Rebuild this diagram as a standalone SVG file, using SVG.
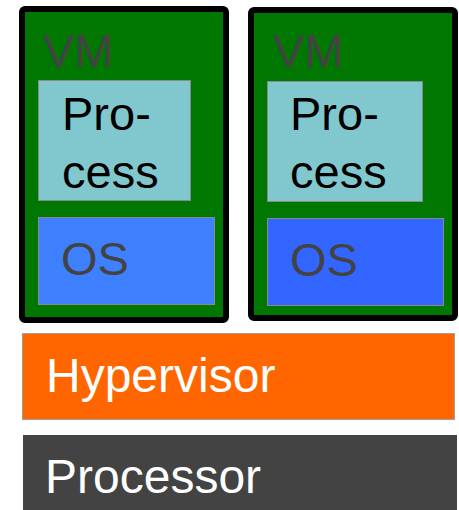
<svg xmlns="http://www.w3.org/2000/svg" width="459" height="510" viewBox="0 0 459 510">
  <style>
    .vm { fill: #007700; stroke: #000000; stroke-width: 6; }
    .proc { fill: #80c8ce; stroke: #8a8a8a; stroke-width: 1; }
    .os-a { fill: #3f80ff; stroke: #8a8a8a; stroke-width: 1; }
    .os-b { fill: #3366ff; stroke: #8a8a8a; stroke-width: 1; }
    .label { font-family: "Liberation Sans", Arial, sans-serif; font-size: 47px; }
    .dark { fill: #434343; }
    .black { fill: #000000; }
    .white { fill: #ffffff; font-size: 48px; }
  </style>

  <!-- virtual machine 1 -->
  <g id="vm1">
    <rect class="vm" x="22" y="9" width="204" height="311" rx="3"/>
    <text class="label dark" x="43" y="67">VM</text>
    <g id="vm1-process">
      <rect class="proc" x="38.5" y="80.5" width="152" height="120"/>
      <text class="label black" x="62" y="130">Pro-</text>
      <text class="label black" x="62" y="188">cess</text>
    </g>
    <g id="vm1-os">
      <rect class="os-a" x="38.5" y="217.5" width="176" height="87"/>
      <text class="label dark" x="61" y="275">OS</text>
    </g>
  </g>

  <!-- virtual machine 2 -->
  <g id="vm2">
    <rect class="vm" x="251" y="10" width="204" height="308" rx="3"/>
    <text class="label dark" x="273" y="67">VM</text>
    <g id="vm2-process">
      <rect class="proc" x="267.5" y="81.5" width="155" height="120"/>
      <text class="label black" x="290" y="130">Pro-</text>
      <text class="label black" x="290" y="188">cess</text>
    </g>
    <g id="vm2-os">
      <rect class="os-b" x="267.5" y="218.5" width="176" height="87"/>
      <text class="label dark" x="290" y="276">OS</text>
    </g>
  </g>

  <!-- hypervisor layer -->
  <g id="hypervisor">
    <rect x="22.5" y="333.5" width="432" height="86" fill="#ff6600" stroke="#a0a0a0" stroke-width="1"/>
    <text class="label white" x="46" y="392">Hypervisor</text>
  </g>

  <!-- processor layer -->
  <g id="processor">
    <rect x="23" y="435" width="434" height="75" fill="#434343"/>
    <text class="label white" x="45" y="493">Processor</text>
  </g>

  <g id="connectors"/>
</svg>
